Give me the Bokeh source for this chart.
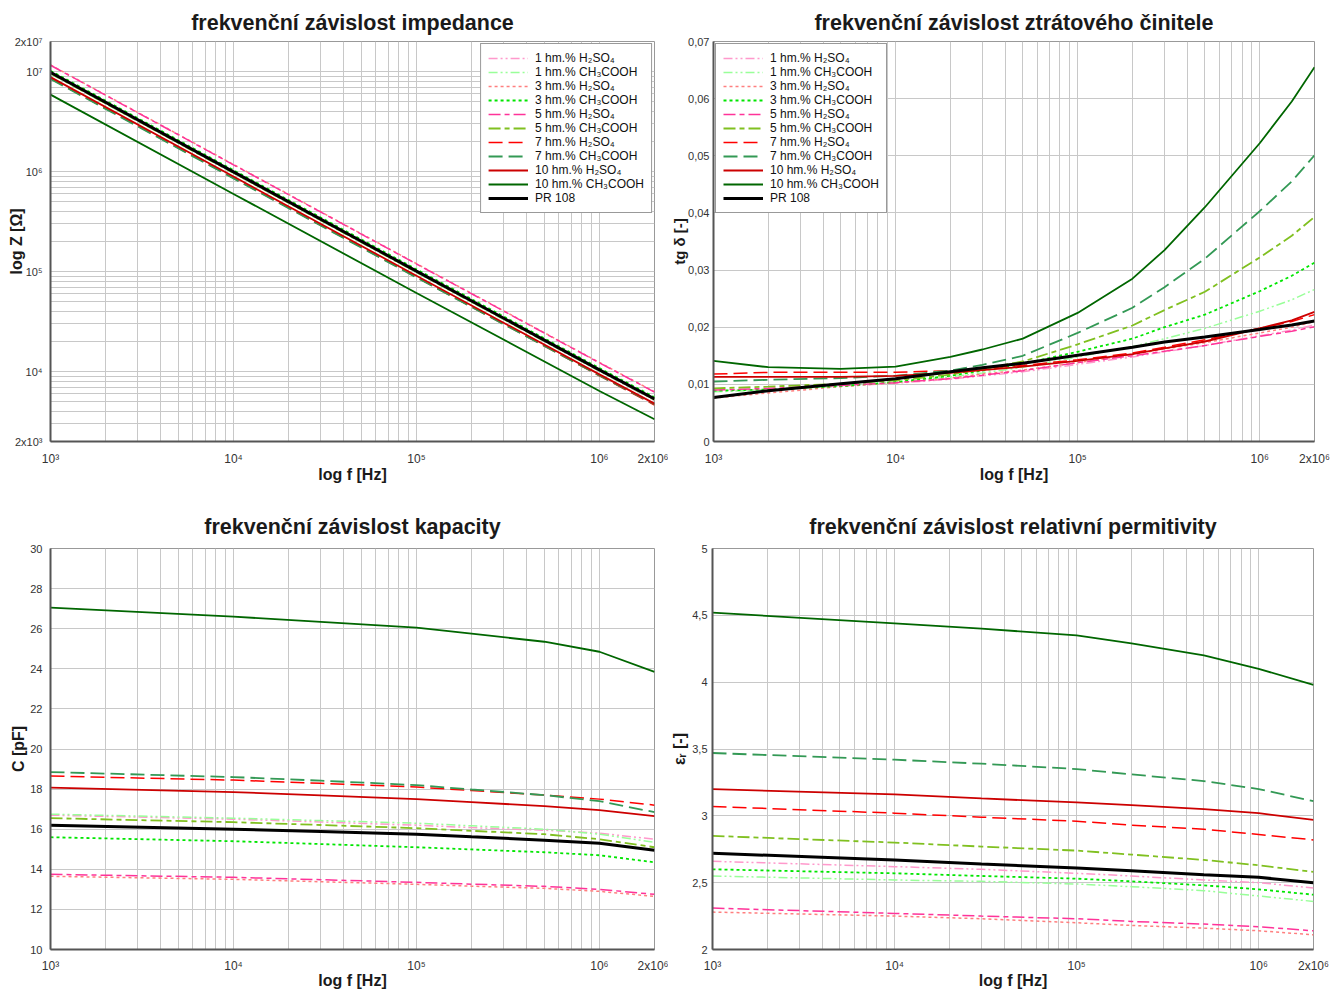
from bokeh.plotting import figure
from bokeh.models import FixedTicker, Legend, LegendItem, Range1d
from bokeh.layouts import column, row
from bokeh.embed import file_html
from bokeh.resources import INLINE

# ---------------- data ----------------
series_labels = ["1 hm.% H₂SO₄", "1 hm.% CH₃COOH", "3 hm.% H₂SO₄", "3 hm.% CH₃COOH",
                 "5 hm.% H₂SO₄", "5 hm.% CH₃COOH", "7 hm.% H₂SO₄", "7 hm.% CH₃COOH",
                 "10 hm.% H₂SO₄", "10 hm.% CH₃COOH", "PR 108"]

# impedance |Z| [Ohm]
freq_z = [1e3, 1e4, 1e5, 1e6, 2e6]
z_h1 = [9.53e6, 9.65e5, 9.82e4, 1.007e4, 5134]
z_a1 = [9.50e6, 9.62e5, 9.76e4, 1.010e4, 5184]
z_h3 = [1.166e7, 1.179e6, 1.201e5, 1.234e4, 6291]
z_a3 = [1.020e7, 1.033e6, 1.054e5, 1.083e4, 5545]
z_h5 = [1.157e7, 1.170e6, 1.192e5, 1.224e4, 6241]
z_a5 = [9.62e6, 9.73e5, 9.92e4, 1.027e4, 5270]
z_h7 = [8.53e6, 8.63e5, 8.79e4, 9095, 4627]
z_a7 = [8.44e6, 8.56e5, 8.74e4, 9147, 4723]
z_h10 = [8.81e6, 8.92e5, 9.09e4, 9390, 4779]
z_a10 = [5.88e6, 5.98e5, 6.11e4, 6405, 3337]
z_pr = [9.82e6, 9.95e5, 1.011e5, 1.040e4, 5323]

# loss factor tg delta [-]
freq_tg = [1e3, 2e3, 5e3, 1e4, 2e4, 3e4, 5e4, 1e5, 2e5, 3e5, 5e5, 1e6, 1.5e6, 2e6]
tg_h1 = [.0088, .0091, .0097, .0102, .0109, .0115, .0122, .0135, .0148, .0157, .0168, .0185, .0195, .0204]
tg_a1 = [.0087, .0090, .0097, .0104, .0113, .0120, .0130, .0148, .0166, .0180, .0198, .0228, .0248, .0266]
tg_h3 = [.0076, .0085, .0096, .0103, .0111, .0118, .0125, .0138, .0152, .0162, .0173, .0190, .0200, .0210]
tg_a3 = [.0089, .0091, .0097, .0104, .0115, .0124, .0136, .0157, .0180, .0200, .0222, .0263, .0290, .0313]
tg_h5 = [.0090, .0093, .0098, .0103, .0110, .0116, .0124, .0138, .0150, .0158, .0168, .0184, .0193, .0201]
tg_a5 = [.0093, .0096, .0101, .0107, .0117, .0127, .0140, .0170, .0203, .0230, .0262, .0322, .0360, .0393]
tg_h7 = [.0118, .0121, .0121, .0121, .0124, .0128, .0133, .0143, .0155, .0165, .0178, .0198, .0210, .0222]
tg_a7 = [.0105, .0108, .0111, .0115, .0124, .0134, .0150, .0190, .0234, .0270, .0320, .0403, .0455, .0501]
tg_h10 = [.0113, .0113, .0113, .0115, .0120, .0125, .0131, .0141, .0153, .0163, .0175, .0198, .0212, .0227]
tg_a10 = [.0141, .0130, .0127, .0131, .0148, .0161, .0180, .0225, .0285, .0335, .0410, .0522, .0595, .0655]
tg_pr = [.0077, .0089, .0101, .0110, .0122, .0129, .0137, .0151, .0165, .0174, .0183, .0196, .0204, .0211]

# capacity C [pF] and relative permittivity
freq_c = [1e3, 1e4, 3e4, 1e5, 2e5, 5e5, 1e6, 2e6]
c_h1 = [16.70, 16.50, 16.36, 16.20, 16.08, 15.95, 15.80, 15.50]
c_a1 = [16.75, 16.55, 16.43, 16.30, 16.17, 16.00, 15.75, 15.35]
c_h3 = [13.65, 13.50, 13.38, 13.25, 13.16, 13.05, 12.90, 12.65]
c_a3 = [15.60, 15.40, 15.26, 15.10, 14.99, 14.85, 14.70, 14.35]
c_h5 = [13.75, 13.60, 13.48, 13.35, 13.26, 13.15, 13.00, 12.75]
c_a5 = [16.55, 16.35, 16.21, 16.05, 15.92, 15.75, 15.50, 15.10]
c_h7 = [18.65, 18.45, 18.29, 18.10, 17.93, 17.70, 17.50, 17.20]
c_a7 = [18.85, 18.60, 18.42, 18.20, 17.98, 17.70, 17.40, 16.85]
c_h10 = [18.07, 17.85, 17.69, 17.50, 17.35, 17.15, 16.95, 16.65]
c_a10 = [27.05, 26.60, 26.34, 26.05, 25.75, 25.35, 24.85, 23.85]
c_pr = [16.20, 16.00, 15.88, 15.75, 15.62, 15.45, 15.30, 14.95]

e_h1 = [2.66, 2.62, 2.60, 2.57, 2.55, 2.52, 2.50, 2.46]
e_a1 = [2.55, 2.52, 2.51, 2.49, 2.47, 2.44, 2.40, 2.36]
e_h3 = [2.28, 2.25, 2.23, 2.20, 2.18, 2.16, 2.14, 2.11]
e_a3 = [2.60, 2.57, 2.55, 2.53, 2.51, 2.48, 2.45, 2.41]
e_h5 = [2.31, 2.27, 2.25, 2.23, 2.21, 2.19, 2.17, 2.14]
e_a5 = [2.85, 2.80, 2.77, 2.74, 2.71, 2.67, 2.63, 2.58]
e_h7 = [3.07, 3.02, 2.99, 2.96, 2.93, 2.90, 2.86, 2.82]
e_a7 = [3.47, 3.42, 3.39, 3.35, 3.31, 3.26, 3.20, 3.11]
e_h10 = [3.20, 3.16, 3.13, 3.10, 3.08, 3.05, 3.02, 2.97]
e_a10 = [4.52, 4.44, 4.40, 4.35, 4.29, 4.20, 4.10, 3.98]
e_pr = [2.72, 2.67, 2.64, 2.61, 2.59, 2.56, 2.54, 2.50]

x_ticks = [1e3, 1e4, 1e5, 1e6, 2e6]
x_tick_labels = ["10³", "10⁴", "10⁵", "10⁶", "2x10⁶"]
z_ticks = [2e3, 1e4, 1e5, 1e6, 1e7, 2e7]
z_tick_labels = ["2x10³", "10⁴", "10⁵", "10⁶", "10⁷", "2x10⁷"]
tg_ticks = [0, 0.01, 0.02, 0.03, 0.04, 0.05, 0.06, 0.07]
tg_tick_labels = ["0", "0,01", "0,02", "0,03", "0,04", "0,05", "0,06", "0,07"]
c_ticks = [10, 12, 14, 16, 18, 20, 22, 24, 26, 28, 30]
c_tick_labels = ["10", "12", "14", "16", "18", "20", "22", "24", "26", "28", "30"]
e_ticks = [2, 2.5, 3, 3.5, 4, 4.5, 5]
e_tick_labels = ["2", "2,5", "3", "3,5", "4", "4,5", "5"]

# ---------------- styles ----------------
colors = ["#ff99cc", "#99ff99", "#ff7f7f", "#00e600", "#ff3399", "#80c020",
          "#ff0000", "#339955", "#cc0000", "#006600", "#000000"]
dashes = ["9 3 2 3 2 3", "9 3 2 3 2 3", "3 3", "3 3", "12 4 5 4", "12 4 5 4",
          "14 6", "14 6", "solid", "solid", "solid"]
widths = [1.5, 1.5, 1.5, 1.8, 1.5, 1.8, 1.5, 1.8, 1.8, 1.8, 3]

FONT = "Liberation Sans"
GRID = "#c8c8c8"


def minor_ticks_between(lo_exp, hi_exp):
    out = []
    for e in range(lo_exp, hi_exp):
        for m in range(2, 10):
            out.append(m * 10 ** e)
    return out


def make_fig(title, y_range, y_type, ylabel, y_ticker, y_labels, borders, fw, title_standoff,
             xlab_standoff, xtitle_standoff, ytick_standoff, ytitle_standoff, ytitle_size):
    left, top, right, bottom, fh = borders
    p = figure(frame_width=fw, frame_height=fh, x_axis_type="log", y_axis_type=y_type,
               x_range=Range1d(1e3, 2e6), y_range=y_range,
               output_backend="svg", toolbar_location=None,
               min_border_left=left, min_border_top=top, min_border_right=right,
               min_border_bottom=bottom)
    p.title.text = title
    p.title.align = "center"
    p.title.text_font = FONT
    p.title.text_font_size = "21.5px"
    p.title.text_font_style = "bold"
    p.title.text_color = "#1a1a1a"
    p.title.standoff = title_standoff

    xt = FixedTicker(ticks=x_ticks, minor_ticks=minor_ticks_between(3, 6) + [2e6])
    p.xaxis.ticker = xt
    p.xgrid.ticker = xt
    p.xaxis.major_label_overrides = dict(zip(x_ticks, x_tick_labels))
    p.yaxis.ticker = y_ticker
    p.ygrid.ticker = y_ticker
    p.yaxis.major_label_overrides = dict(zip(y_ticker.ticks, y_labels))

    for g in (p.xgrid, p.ygrid):
        g.grid_line_color = GRID
        g.grid_line_width = 1
    p.xgrid.minor_grid_line_color = GRID
    if y_type == "log":
        p.ygrid.minor_grid_line_color = GRID

    for ax in (p.xaxis, p.yaxis):
        ax.axis_line_color = "#555555"
        ax.axis_line_width = 2
        ax.major_tick_line_color = None
        ax.minor_tick_line_color = None
        ax.major_label_text_font = FONT
        ax.major_label_text_color = "#333333"
        ax.axis_label_text_font = FONT
        ax.axis_label_text_font_style = "bold"
        ax.axis_label_text_color = "#1a1a1a"
    p.xaxis.major_label_text_font_size = "12px"
    p.xaxis.axis_label_text_font_size = "16px"
    p.yaxis.major_label_text_font_size = "11px"
    p.yaxis.axis_label_text_font_size = ytitle_size
    p.xaxis.axis_label = "log f [Hz]"
    p.xaxis.major_label_standoff = xlab_standoff
    p.xaxis.axis_label_standoff = xtitle_standoff
    p.yaxis.axis_label = ylabel
    p.yaxis.major_label_standoff = ytick_standoff
    p.yaxis.axis_label_standoff = ytitle_standoff
    p.outline_line_color = "#999999"
    p.outline_line_width = 1
    return p


def add_lines(p, freq, data):
    rs = []
    for ys, c, d, w in zip(data, colors, dashes, widths):
        r = p.line(freq, ys, line_color=c, line_dash=d, line_width=w)
        rs.append(r)
    return rs


def add_legend(p, rs, loc):
    items = [LegendItem(label=lab, renderers=[r]) for lab, r in zip(series_labels, rs)]
    lg = Legend(items=items, location=loc)
    lg.label_text_font = FONT
    lg.label_text_font_size = "12px"
    lg.label_text_color = "#111111"
    lg.glyph_width = 40
    lg.glyph_height = 14
    lg.label_height = 14
    lg.spacing = 0
    lg.padding = 7
    lg.margin = 2
    lg.label_standoff = 7
    lg.border_line_color = "#333333"
    lg.border_line_width = 1
    lg.background_fill_alpha = 1
    p.add_layout(lg)


p1 = make_fig("frekvenční závislost impedance", Range1d(2e3, 2e7), "log", "log Z [Ω]",
              FixedTicker(ticks=z_ticks, minor_ticks=minor_ticks_between(3, 7)),
              z_tick_labels, (50, 41, 14, 55, 400), 604, 14, 4, -3, 2, -13, "16px")
r1 = add_lines(p1, freq_z, [z_h1, z_a1, z_h3, z_a3, z_h5, z_a5, z_h7, z_a7, z_h10, z_a10, z_pr])
add_legend(p1, r1, "top_right")

p2 = make_fig("frekvenční závislost ztrátového činitele", Range1d(0, 0.07), "linear", "tg δ [-]",
              FixedTicker(ticks=tg_ticks), tg_tick_labels, (44, 41, 28, 55, 400), 601, 14, 4, -3,
              -2, -3, "15px")
r2 = add_lines(p2, freq_tg, [tg_h1, tg_a1, tg_h3, tg_a3, tg_h5, tg_a5, tg_h7, tg_a7, tg_h10, tg_a10, tg_pr])
add_legend(p2, r2, "top_left")

p3 = make_fig("frekvenční závislost kapacity", Range1d(10, 30), "linear", "C [pF]",
              FixedTicker(ticks=c_ticks), c_tick_labels, (50, 52, 14, 42, 401), 604, 20, 3, -4,
              2, 0, "16px")
add_lines(p3, freq_c, [c_h1, c_a1, c_h3, c_a3, c_h5, c_a5, c_h7, c_a7, c_h10, c_a10, c_pr])

p4 = make_fig("frekvenční závislost relativní permitivity", Range1d(2, 5), "linear", "εᵣ [-]",
              FixedTicker(ticks=e_ticks), e_tick_labels, (44, 52, 28, 42, 401), 601, 20, 3, -4,
              -1, 1, "16px")
add_lines(p4, freq_c, [e_h1, e_a1, e_h3, e_a3, e_h5, e_a5, e_h7, e_a7, e_h10, e_a10, e_pr])

layout = column(row(p1, p2), row(p3, p4))
open("out.html", "w").write(file_html(layout, INLINE))
